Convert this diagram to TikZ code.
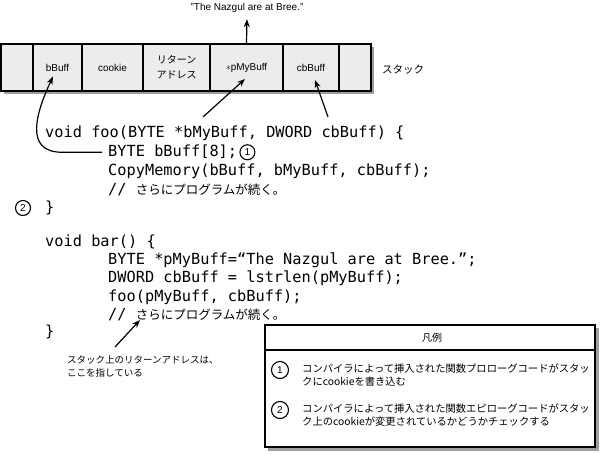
\documentclass[tikz,border=0pt]{standalone}
\usepackage{fontspec}
\setmainfont{Liberation Sans}
\newfontfamily\cjk{Noto Sans CJK JP}
\newfontfamily\code{DejaVu Sans Mono}
\usetikzlibrary{arrows.meta,positioning}
\newcommand{\jp}[1]{{\cjk #1}}
\newcommand{\jc}[1]{{\cjk\fontsize{12.5}{18}\selectfont #1}}

\begin{document}
\begin{tikzpicture}[x=1pt,y=-1pt,
    cell/.style={draw,line width=1.1pt,fill=gray!15,minimum height=47pt,inner sep=0pt,
        align=center,font=\fontsize{10}{15}\selectfont},
    codeline/.style={anchor=base west,inner sep=0pt,font=\code\fontsize{15.3}{18}\selectfont},
    numcirc/.style={circle,draw,line width=1.1pt,inner sep=0pt,minimum size=15pt,
        font=\fontsize{10}{10}\selectfont},
    arr/.style={-{Stealth[length=8pt,width=6pt]},line width=1.2pt},
    jtext/.style={inner sep=0pt,align=left,font=\cjk\fontsize{10.3}{13}\selectfont}]
    \useasboundingbox (0,0) rectangle (600,454);

    % stack
    \fill [gray!75] (4,47) rectangle (374,94.5);
    \foreach \name/\l/\r/\txt in {s0/1/33/{}, bbuff/33/82/bBuff, cookie/82/143/cookie,
        ret/143/210/{\jp{リターン}\\\jp{アドレス}}, pmybuff/210/283/{$\ast$pMyBuff},
        cbbuff/283/339/cbBuff, s6/339/371/{}}{
        \node [cell,minimum width={(\r-\l)*1pt}] (\name) at ({(\l+\r)/2},67.5) {\txt};
    }
    \node [font=\fontsize{10}{12}\selectfont] (quote) at (247,8) {"The Nazgul are at Bree."};
    \draw [arr,shorten >=3pt] (pmybuff.north) -- (quote.south);
    \node [font=\cjk\fontsize{10.5}{12}\selectfont] (stacklbl) at (403,70) {スタック};

    % code
    \node [codeline] (foo)    at (45,138)  {void foo(BYTE *bMyBuff, DWORD cbBuff) \{};
    \node [codeline] (buf)    at (108,157) {BYTE bBuff[8];};
    \node [codeline] (copy)   at (108,176) {CopyMemory(bBuff, bMyBuff, cbBuff);};
    \node [codeline] (cmt1)   at (108,195) {// \jc{さらにプログラムが続く。}};
    \node [codeline] (fooend) at (45,213)  {\}};
    \node [codeline] (bar)    at (45,247)  {void bar() \{};
    \node [codeline] (ptr)    at (108,265) {BYTE *pMyBuff=“The Nazgul are at Bree.”;};
    \node [codeline] (len)    at (108,283) {DWORD cbBuff = lstrlen(pMyBuff);};
    \node [codeline] (call)   at (108,302) {foo(pMyBuff, cbBuff);};
    \node [codeline] (cmt2)   at (108,320) {// \jc{さらにプログラムが続く。}};
    \node [codeline] (barend) at (45,337)  {\}};
    \node [numcirc,right=2pt of buf.east] (n1) {1};
    \node [numcirc] (n2) at (23,208) {2};

    \coordinate (pstart) at (203,117);
    \coordinate (cstart) at (328,117);
    \draw [arr] ([xshift=-6pt]buf.west) -- ++(-40,0) to [out=180,in=245,looseness=1.3]
        ([xshift=-4.5pt,yshift=-9pt]bbuff.center);
    \draw [arr] (pstart) -- ([xshift=-1.5pt,yshift=-11.5pt]pmybuff.center);
    \draw [arr] (cstart) -- ([xshift=4pt,yshift=-12.5pt]cbbuff.center);

    \node [jtext,anchor=north west,font=\cjk\fontsize{9.5}{13}\selectfont] (note) at (67,355)
        {スタック上のリターンアドレスは、\\ここを指している};
    \coordinate (nstart) at (115,347);
    \draw [arr] (nstart) -- ([xshift=32pt]cmt2.base west);

    % legend
    \fill [gray!75] (268,328) rectangle (598.5,450.5);
    \draw [line width=1.3pt,fill=white] (265,325) rectangle (595,447);
    \draw [line width=1.3pt] (265,350) -- (595,350);
    \node [font=\cjk\fontsize{10}{12}\selectfont] (legtitle) at (432,338) {凡例};
    \node [numcirc,minimum size=17pt] (leg1) at (280,370) {1};
    \node [jtext,anchor=north west] (leg1txt) at (302,364)
        {コンパイラによって挿入された関数プロローグコードがスタッ\\クにcookieを書き込む};
    \node [numcirc,minimum size=17pt] (leg2) at (280,410) {2};
    \node [jtext,anchor=north west] (leg2txt) at (302,404)
        {コンパイラによって挿入された関数エピローグコードがスタッ\\ク上のcookieが変更されているかどうかチェックする};
\end{tikzpicture}
\end{document}
